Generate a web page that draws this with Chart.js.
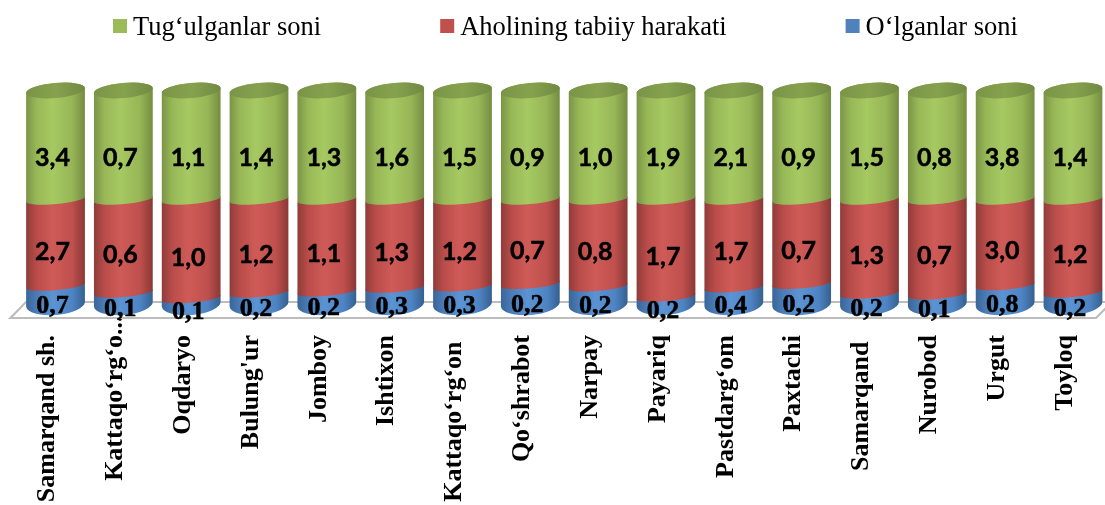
<!DOCTYPE html>
<html><head><meta charset="utf-8">
<style>html,body{margin:0;padding:0;background:#fff;overflow:hidden;width:1105px;height:505px}
#w{position:absolute;left:0;top:0;width:1108px;height:505px}</style>
<script src="https://cdn.jsdelivr.net/npm/chart.js@4/dist/chart.umd.min.js"></script>
</head><body><div id="w"><canvas id="c" width="1108" height="505"></canvas></div>
<script>
const categories=["Samarqand sh.","Kattaqo‘rg‘o...","Oqdaryo","Bulung'ur","Jomboy","Ishtixon","Kattaqo‘rg‘on","Qo‘shrabot","Narpay","Payariq","Pastdarg‘om","Paxtachi","Samarqand","Nurobod","Urgut","Toyloq"];
const olganlar=[0.7,0.1,0.1,0.2,0.2,0.3,0.3,0.2,0.2,0.2,0.4,0.2,0.2,0.1,0.8,0.2];
const tabiiy=[2.7,0.6,1.0,1.2,1.1,1.3,1.2,0.7,0.8,1.7,1.7,0.7,1.3,0.7,3.0,1.2];
const tugilgan=[3.4,0.7,1.1,1.4,1.3,1.6,1.5,0.9,1.0,1.9,2.1,0.9,1.5,0.8,3.8,1.4];
const seriesRaw=[olganlar,tabiiy,tugilgan];
const labelSpaces=[3,0,3,3,3,3,4,3,3,3,3,3,4,3,3,3];
const share=(arr)=>arr.map((v,i)=>v/(olganlar[i]+tabiiy[i]+tugilgan[i])*100);
const shades={
 "#4F81BD":["#3a6596","#4a7cb8","#5b93d3","#4f84c4","#35608f"],
 "#C0504D":["#8f3c3a","#b94c49","#cf5b58","#bf504d","#8a3836"],
 "#9BBB59":["#7a9446","#98b857","#a6c962","#97b656","#748c42"]
};
const TILT=-5*Math.PI/180;
function grad(ctx,x,r,s){
 const g=ctx.createLinearGradient(x-r,0,x+r,0);
 g.addColorStop(0,s[0]);g.addColorStop(.18,s[1]);g.addColorStop(.45,s[2]);g.addColorStop(.78,s[3]);g.addColorStop(1,s[4]);
 return g;
}
const cylinders={id:'cyl',
 beforeDatasetsDraw(chart){
  const ctx=chart.ctx;
  const lastD=chart.data.datasets.length-1;
  ctx.save();
  ctx.strokeStyle='#bcbcbc';ctx.lineWidth=2.2;ctx.lineJoin='miter';
  ctx.beginPath();ctx.moveTo(10.5,318);ctx.lineTo(1096,318);ctx.lineTo(1112,302);ctx.lineTo(26,302);ctx.closePath();ctx.stroke();
  categories.forEach((_,i)=>{
   for(let d=0;d<=lastD;d++){
    const el=chart.getDatasetMeta(d).data[i],s=shades[chart.data.datasets[d].backgroundColor];
    const r=el.width/2,x=el.x;
    const isBottom=d===0,isTop=d===lastD;
    ctx.fillStyle=grad(ctx,x,r,s);
    ctx.beginPath();
    ctx.ellipse(x,isBottom?el.base-4:el.base,r,isBottom?11:4.5,TILT,0,Math.PI,false);
    ctx.ellipse(x,isTop?el.y-0.5:el.y,r,isTop?7.5:4.5,TILT,Math.PI,2*Math.PI,false);
    ctx.closePath();ctx.fill();
    if(isTop){
     const g=ctx.createLinearGradient(x-r,0,x+r,0);
     g.addColorStop(0,'#7a9447');g.addColorStop(.5,'#86a24e');g.addColorStop(1,'#718a42');
     ctx.fillStyle=g;
     ctx.beginPath();ctx.ellipse(x,el.y-0.5,r,7.5,TILT,0,2*Math.PI);ctx.fill();
    }
   }
  });
  ctx.restore();
  return false;
 },
 afterDraw(chart){
  const ctx=chart.ctx;
  ctx.save();
  ctx.fillStyle='#000';ctx.strokeStyle='#000';ctx.lineWidth=0.5;ctx.textAlign='center';ctx.textBaseline='middle';
  const dy=[9,9,13];
  chart.data.datasets.forEach((ds,d)=>{
   chart.getDatasetMeta(d).data.forEach((el,i)=>{
    const t=seriesRaw[d][i].toFixed(1).replace('.',',');
    ctx.font=d===0?'bold 26px "Liberation Serif"':'bold 25px Lato';
    const px=el.x-3,py=(el.y+el.base)/2+dy[d];
    ctx.fillText(t,px,py);ctx.strokeText(t,px,py);
   });
  });
  ctx.textAlign='left';ctx.textBaseline='alphabetic';
  ctx.font='26.5px "Liberation Serif"';
  const pad=119,box=14,gap=6;
  let cx=113;
  [2,1,0].forEach(d=>{
   const ds=chart.data.datasets[d];
   ctx.fillStyle=ds.backgroundColor;ctx.fillRect(cx,19,box,box);
   ctx.fillStyle='#000';
   const tx=cx+box+gap;
   ctx.fillText(ds.label,tx,35);
   cx=tx+ctx.measureText(ds.label).width+pad;
  });
  ctx.restore();
 }
};
new Chart(document.getElementById('c'),{
 type:'bar',
 data:{labels:categories,datasets:[
  {label:"O‘lganlar soni",data:share(olganlar),backgroundColor:"#4F81BD"},
  {label:"Aholining tabiiy harakati",data:share(tabiiy),backgroundColor:"#C0504D"},
  {label:"Tug‘ulganlar soni",data:share(tugilgan),backgroundColor:"#9BBB59"}
 ]},
 plugins:[cylinders],
 options:{
  responsive:false,animation:false,
  layout:{padding:{left:21.6,right:1.1,top:91,bottom:0}},
  datasets:{bar:{categoryPercentage:1,barPercentage:0.87}},
  plugins:{legend:{display:false},tooltip:{enabled:false},title:{display:false}},
  scales:{
   x:{stacked:true,grid:{display:false,drawTicks:false},border:{display:false},
      afterFit(s){s.height=505-308;s.paddingLeft=0;s.paddingRight=0;},
      ticks:{autoSkip:false,minRotation:90,maxRotation:90,padding:7.5,labelOffset:-8,color:'#000',
             font:{family:'"Liberation Serif"',weight:'bold',size:26},
             callback(v,i){return categories[i]+'\u00a0'.repeat(labelSpaces[i]);}}},
   y:{stacked:true,display:false,min:0,max:100}
  }
 }
});
</script></body></html>
